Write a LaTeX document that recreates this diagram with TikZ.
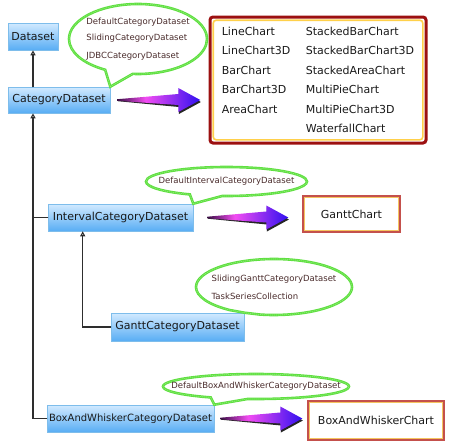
\documentclass[tikz,border=0pt]{standalone}
\usepackage{fontspec}
\setmainfont{DejaVu Sans}
\usetikzlibrary{calc,arrows.meta,shapes.geometric,shapes.callouts}
\definecolor{dsInk}{HTML}{1A1A1A}
\definecolor{dsLine}{HTML}{2E2E2E}
\definecolor{boxTop}{HTML}{D2EAFF}
\definecolor{boxBot}{HTML}{58ADF4}
\definecolor{boxEdge}{HTML}{7EBDEB}
\definecolor{bubGreen}{HTML}{5FE040}
\definecolor{bubText}{HTML}{4A2C2C}
\definecolor{chartRed}{HTML}{9C1010}
\definecolor{chartGold}{HTML}{FFD04A}
\definecolor{smallRed}{HTML}{C4504C}
\definecolor{smallGold}{HTML}{F4C460}
\definecolor{arrTail}{HTML}{3A0E44}
\definecolor{arrPink}{HTML}{F24CF2}
\definecolor{arrBlue}{HTML}{3010F0}
\pgfdeclarehorizontalshading{fatshade}{100bp}{color(0bp)=(arrTail); color(25bp)=(arrTail);
  color(42bp)=(arrPink); color(75bp)=(arrBlue); color(100bp)=(arrBlue)}
\renewcommand{\arraystretch}{1.5}
\tikzset{
  cls/.style       = {draw=boxEdge, line width=0.6pt, top color=boxTop, bottom color=boxBot,
                      inner sep=0pt, text=dsInk, font=\fontsize{11}{13}\selectfont},
  inherit/.style   = {draw=dsLine, line width=1.1pt,
                      -{Triangle[open,length=5pt,width=5pt]}},
  trunk/.style     = {draw=dsLine, line width=1.1pt},
  bubble/.style    = {ellipse callout, draw=bubGreen, line width=2.6pt, fill=white,
                      inner xsep=-25pt, inner ysep=0pt, callout pointer arc=24,
                      text=bubText, align=left, font=\fontsize{8.5}{18}\selectfont,
                      postaction={draw=bubGreen!70!white, line width=0.7pt,
                                  dash pattern=on 0.7pt off 1.3pt}},
  chartbig/.style  = {draw=chartRed, line width=3pt, rounded corners=3pt, fill=white,
                      inner sep=0pt, text=dsInk, font=\fontsize{11}{13}\selectfont,
                      path picture={\draw[chartGold, line width=1.6pt]
                        ([shift={(3.2,3.2)}]path picture bounding box.north west) rectangle
                        ([shift={(-3.2,-3.2)}]path picture bounding box.south east);}},
  chartsmall/.style= {draw=smallRed, line width=1.4pt, fill=white,
                      inner sep=0pt, text=dsInk, font=\fontsize{11}{13}\selectfont,
                      path picture={\draw[smallGold, line width=1.4pt]
                        ([shift={(1.6,1.6)}]path picture bounding box.north west) rectangle
                        ([shift={(-1.6,-1.6)}]path picture bounding box.south east);}},
}
% fat shaded arrow. #1 tail point, #2 length
\newcommand{\fatarrow}[2]{%
  \begin{scope}[shift={#1}]
    \fill[black!85] (0.6,1.2) -- ({#2-21.4},7) -- ({#2-21.4},14) -- ({#2+0.6},2)
      -- ({#2-21.4},-10) -- ({#2-21.4},-4) -- (0.6,0.4) -- cycle;
    \shade[shading=fatshade] (0,-0.8) -- ({#2-22},-6) -- ({#2-22},-12) -- (#2,0)
      -- ({#2-22},12) -- ({#2-22},5) -- (0,0.8) -- cycle;
  \end{scope}}

\begin{document}
\begin{tikzpicture}[x=1pt, y=-1pt, line cap=round]
\useasboundingbox (0,0) rectangle (450,447);

% ===================== class boxes =====================
\node[cls, minimum width=50, minimum height=27] (dataset) at (33,36.5) {Dataset};
\node[cls, minimum width=102, minimum height=26] (cat) at (59,100) {CategoryDataset};
\node[cls, minimum width=145, minimum height=27] (interval) at (120.5,217.5)
  {IntervalCategoryDataset};
\node[cls, minimum width=133, minimum height=28] (gcd) at (177.5,327)
  {GanttCategoryDataset};
\node[cls, minimum width=167, minimum height=27, font=\fontsize{10}{12}\selectfont]
  (bw) at (130.5,418.5) {BoxAndWhiskerCategoryDataset};

% ===================== inheritance lines =====================
\coordinate (catfoot) at (dataset.south |- cat.south);
\coordinate (intfoot) at ($(interval.south west)+(35,0)$);
\draw[inherit] (dataset.south |- cat.north) -- (dataset.south);
\draw[inherit] (interval.west) -| (catfoot);
\draw[trunk] (bw.west) -| (catfoot |- interval.west);
\draw[inherit] (gcd.west) -| (intfoot);

% ===================== chart boxes =====================
\node[chartbig, minimum width=216, minimum height=126] (charts) at (318,80)
  {\begin{tabular}{@{}p{84pt}@{}l@{}}
   LineChart   & StackedBarChart\\
   LineChart3D & StackedBarChart3D\\
   BarChart    & StackedAreaChart\\
   BarChart3D  & MultiPieChart\\
   AreaChart   & MultiPieChart3D\\
               & WaterfallChart
   \end{tabular}};
\node[chartsmall, minimum width=97, minimum height=36] (gantt) at (351.5,214) {GanttChart};
\node[chartsmall, minimum width=136, minimum height=39] (bwchart) at (376,420.5)
  {BoxAndWhiskerChart};

\fatarrow{($(cat.east)+(7,0)$)}{83}
\fatarrow{($(interval.east)+(14,0)$)}{81}
\fatarrow{($(bw.east)+(6,0)$)}{82}

% ===================== implementation bubbles =====================
\node[bubble, minimum width=138, minimum height=70, callout absolute pointer={(cat.north east)}]
  (catimpl) at (138,39)
  {DefaultCategoryDataset\\[-2pt] SlidingCategoryDataset\\ JDBCCategoryDataset};
\node[bubble, minimum width=161, minimum height=29,
      callout absolute pointer={(interval.north east)}]
  (intimpl) at (226.5,181.5) {DefaultIntervalCategoryDataset};
\node[bubble, minimum width=156, minimum height=56, callout absolute pointer={(gcd.north east)}]
  (gcdimpl) at (274,287) {SlidingGanttCategoryDataset\\ TaskSeriesCollection};
\node[bubble, minimum width=186, minimum height=25, callout absolute pointer={(bw.north east)}]
  (bwimpl) at (256,386.5) {DefaultBoxAndWhiskerCategoryDataset};

\end{tikzpicture}
\end{document}
